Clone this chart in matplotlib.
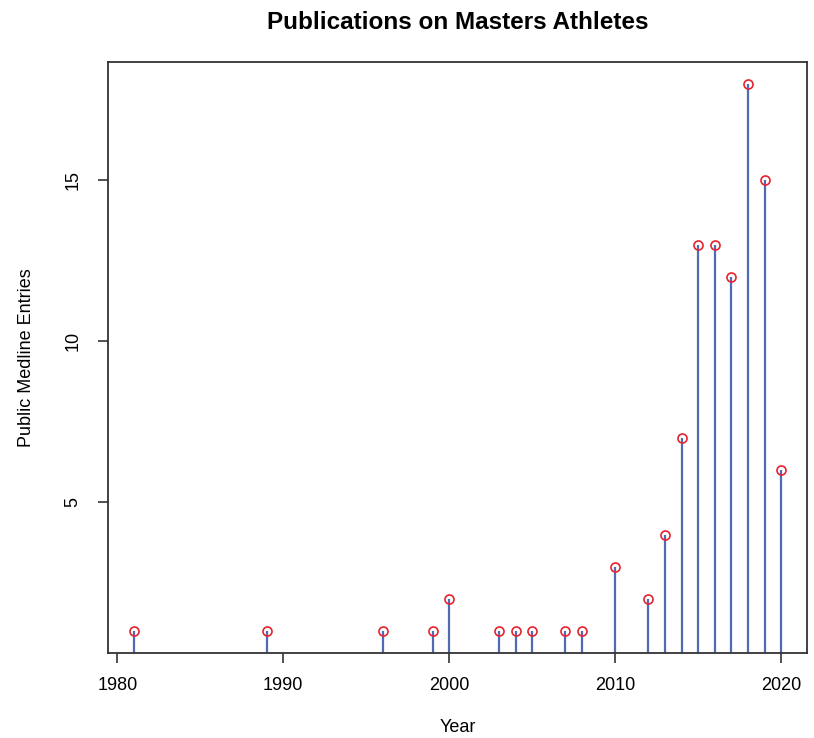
import matplotlib
matplotlib.use("Agg")
import matplotlib.pyplot as plt

plt.rcParams['font.family'] = ['Liberation Sans', 'DejaVu Sans']

# publications per year
years = [1981, 1989, 1996, 1999, 2000, 2003, 2004, 2005, 2007, 2008,
         2010, 2012, 2013, 2014, 2015, 2016, 2017, 2018, 2019, 2020]
counts = [1, 1, 1, 1, 2, 1, 1, 1, 1, 1,
          3, 2, 4, 7, 13, 13, 12, 18, 15, 6]
xticks = [1980, 1990, 2000, 2010, 2020]
yticks = [5, 10, 15]

fig = plt.figure(figsize=(8.14, 7.38), dpi=100)
ax = fig.add_axes([0.1327, 0.1152, 0.8587, 0.8008])

ax.vlines(years, 0, counts, color='#4f6bb5', linewidth=1.6)
ax.plot(years, counts, 'o', mfc='none', mec='#e8222e', ms=6.5, mew=1.2)

ax.set_xlim(1979.44, 2021.56)
ax.set_ylim(0.32, 18.68)
ax.set_xticks(xticks)
ax.set_yticks(yticks)
ax.tick_params(axis='both', labelsize=13, length=7, width=1.2, color='#333333')
ax.tick_params(axis='x', pad=10)
ax.tick_params(axis='y', pad=12)
for lab in ax.get_yticklabels():
    lab.set_rotation(90)
    lab.set_va('center')
for s in ax.spines.values():
    s.set_linewidth(1.3)
    s.set_color('#333333')

ax.set_title('Publications on Masters Athletes', fontsize=17.5, fontweight='bold', pad=24)
ax.set_xlabel('Year', fontsize=13, labelpad=18)
ax.set_ylabel('Public Medline Entries', fontsize=13, labelpad=21)

fig.savefig('out.png', dpi=100)
